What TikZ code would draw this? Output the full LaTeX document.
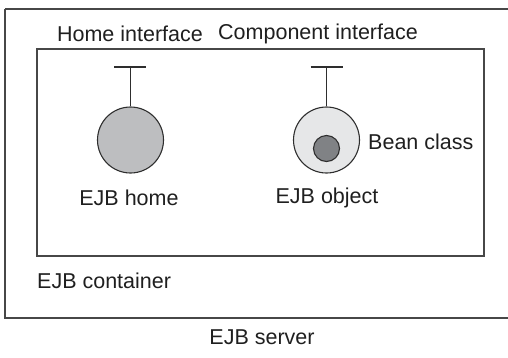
\documentclass[tikz,border=0pt]{standalone}
\usepackage{fontspec}
\setmainfont{Liberation Sans}
\begin{document}
\begin{tikzpicture}[x=1pt,y=-1pt,
  lbl/.style={font=\fontsize{21.5}{23}\selectfont, text=black!88, inner sep=0pt},
  boxline/.style={draw=black!72, line width=1.4pt},
  thin/.style={draw=black!82, line width=1.1pt},
  bigcirc/.style={circle, draw=black!82, line width=1.1pt, minimum size=66pt, inner sep=0pt},
  smallcirc/.style={circle, draw=black!82, line width=1.1pt, minimum size=26pt, inner sep=0pt}]
\useasboundingbox (0,0) rectangle (508,357);
\clip (0,0) rectangle (508,357);
% outer server box
\draw[boxline] (5,9) -- (520,9) (5,9) -- (5,318) -- (520,318);
% inner container box
\draw[boxline] (37,49) rectangle (484,256);
% home
\node[bigcirc, fill={rgb,255:red,189;green,190;blue,192}] (home) at (130.5,140) {};
\coordinate (hbar) at (130.5,67);
\draw[thin] (home.north) -- (hbar);
\draw[thin] (114,67) -- (146,67);
% object
\node[bigcirc, fill={rgb,255:red,230;green,231;blue,232}] (obj) at (326.5,140) {};
\node[smallcirc, fill={rgb,255:red,128;green,130;blue,133}] (bean) at (326.5,148.5) {};
\coordinate (obar) at (326.5,67);
\draw[thin] (obj.north) -- (obar);
\draw[thin] (310.5,67) -- (342.5,67);
% labels
\node[lbl] (hi) at (130,34) {Home interface};
\node[lbl] (ci) at (318,34) {Component interface};
\node[lbl, anchor=west] (bc) at (368,142) {Bean class};
\node[lbl] (eh) at (129,198) {EJB home};
\node[lbl] (eo) at (327,198) {EJB object};
\node[lbl, anchor=west] (ec) at (37,281) {EJB container};
\node[lbl] (es) at (262,337) {EJB server};
\end{tikzpicture}
\end{document}
